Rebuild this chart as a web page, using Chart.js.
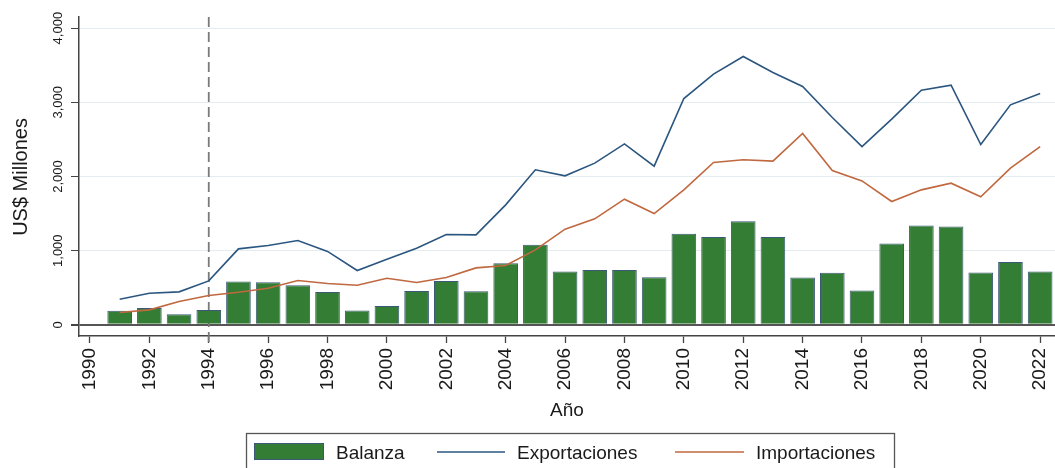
<!DOCTYPE html>
<html>
<head>
<meta charset="utf-8">
<script src="https://cdn.jsdelivr.net/npm/chart.js@4.4.0/dist/chart.umd.min.js"></script>
<style>
html,body{margin:0;padding:0;background:#fff;}
canvas{display:block;}
</style>
</head>
<body>
<canvas id="c" width="1055" height="468"></canvas>
<script>
// ---- Data ----
const years = [1991,1992,1993,1994,1995,1996,1997,1998,1999,2000,2001,2002,2003,2004,2005,2006,
               2007,2008,2009,2010,2011,2012,2013,2014,2015,2016,2017,2018,2019,2020,2021,2022];
const balanza = [189,229,144,202,584,575,535,443,193,256,458,593,454,831,1079,719,
                 741,741,643,1227,1186,1398,1186,638,701,463,1097,1339,1326,706,849,719];
const exportaciones = [346,427,445,593,1025,1070,1137,990,733,885,1034,1218,1213,1618,2090,2009,
                       2180,2440,2139,3051,3380,3618,3402,3213,2795,2404,2773,3164,3231,2431,2966,3119];
const importaciones = [166,202,315,395,440,494,598,557,535,629,571,638,768,800,1011,1290,
                       1429,1694,1501,1820,2189,2225,2207,2580,2081,1941,1663,1820,1910,1726,2112,2404];
const yTicks = [0,1000,2000,3000,4000];
const xTicks = [1990,1992,1994,1996,1998,2000,2002,2004,2006,2008,2010,2012,2014,2016,2018,2020,2022];
const refYear = 1994;
const seriesNames = ['Balanza','Exportaciones','Importaciones'];
const yTitle = 'US$ Millones';
const xTitle = 'Año';

const FONT = '"Liberation Sans", Arial, Helvetica, sans-serif';
Chart.defaults.font.family = FONT;
Chart.defaults.color = '#1a1a1a';

const colors = { bar:'#347d34', barBorder:'#3b5877', exp:'#2b5680', imp:'#c0683f', text:'#1a1a1a', axis:'#444' };

const toXY = arr => arr.map((v,i) => ({ x: years[i], y: v }));

const extras = {
  id: 'extras',
  beforeDatasetsDraw(chart) {
    const { ctx, chartArea, scales: { x } } = chart;
    const px = x.getPixelForValue(refYear);
    ctx.save();
    ctx.strokeStyle = '#7a7a7a';
    ctx.lineWidth = 1.8;
    ctx.setLineDash([10, 5]);
    ctx.beginPath();
    ctx.moveTo(px, chartArea.top);
    ctx.lineTo(px, chartArea.bottom + 7);
    ctx.stroke();
    ctx.restore();
  },
  afterDraw(chart) {
    const { ctx, scales: { x, y }, chartArea } = chart;
    ctx.save();
    ctx.fillStyle = colors.text;
    // y tick labels (rotated)
    ctx.font = '13px ' + FONT;
    ctx.textAlign = 'center';
    ctx.textBaseline = 'alphabetic';
    yTicks.forEach(v => {
      const py = y.getPixelForValue(v);
      ctx.save();
      ctx.translate(62, py);
      ctx.rotate(-Math.PI / 2);
      ctx.fillText(v.toLocaleString('en-US'), 0, 0);
      ctx.restore();
    });
    // y title
    ctx.font = '20px ' + FONT;
    ctx.save();
    ctx.translate(27, (chartArea.top + y.getPixelForValue(0)) / 2 + 6);
    ctx.rotate(-Math.PI / 2);
    ctx.fillText(yTitle, 0, 0);
    ctx.restore();
    // x title
    ctx.font = '19px ' + FONT;
    ctx.fillText(xTitle, (chartArea.left + chartArea.right) / 2, 416);
    // legend
    ctx.strokeStyle = '#555';
    ctx.lineWidth = 1.3;
    ctx.strokeRect(246.5, 433.5, 648, 60);
    ctx.fillStyle = colors.bar;
    ctx.fillRect(254, 443, 70, 17);
    ctx.strokeStyle = colors.barBorder;
    ctx.lineWidth = 1;
    ctx.strokeRect(254.5, 443.5, 69, 16);
    ctx.fillStyle = colors.text;
    ctx.font = '19px ' + FONT;
    ctx.textAlign = 'left';
    ctx.fillText(seriesNames[0], 336, 459);
    ctx.lineWidth = 1.6;
    ctx.strokeStyle = colors.exp;
    ctx.beginPath(); ctx.moveTo(437, 452); ctx.lineTo(505, 452); ctx.stroke();
    ctx.fillText(seriesNames[1], 517, 459);
    ctx.strokeStyle = colors.imp;
    ctx.beginPath(); ctx.moveTo(675, 452); ctx.lineTo(744, 452); ctx.stroke();
    ctx.fillText(seriesNames[2], 756, 459);
    ctx.restore();
  }
};

new Chart(document.getElementById('c'), {
  type: 'bar',
  data: {
    datasets: [
      { type: 'bar', label: seriesNames[0], data: toXY(balanza), backgroundColor: colors.bar,
        borderColor: colors.barBorder, borderWidth: 1, barPercentage: 0.83, categoryPercentage: 1.0, order: 3 },
      { type: 'line', label: seriesNames[1], data: toXY(exportaciones), borderColor: colors.exp,
        borderWidth: 1.6, pointRadius: 0, tension: 0, fill: false, order: 1 },
      { type: 'line', label: seriesNames[2], data: toXY(importaciones), borderColor: colors.imp,
        borderWidth: 1.6, pointRadius: 0, tension: 0, fill: false, order: 2 }
    ]
  },
  options: {
    responsive: false,
    animation: false,
    devicePixelRatio: 1,
    layout: { padding: { top: 17, left: 0, right: 0, bottom: 0 } },
    plugins: { legend: { display: false }, tooltip: { enabled: false } },
    scales: {
      x: {
        type: 'linear', min: 1989.63, max: 2022.5, offset: false,
        afterBuildTicks: s => { s.ticks = xTicks.map(v => ({ value: v })); },
        afterFit: s => { s.height = 132; s.paddingLeft = 0; s.paddingRight = 0; },
        grid: { display: true, drawOnChartArea: false, drawTicks: true, tickLength: 7, tickColor: colors.axis, tickWidth: 1.3, offset: false },
        border: { display: true, color: colors.axis, width: 1.5 },
        ticks: { autoSkip: false, minRotation: 90, maxRotation: 90, padding: 5, font: { size: 19 }, color: colors.text,
                 callback: v => String(v) }
      },
      y: {
        type: 'linear', min: -150, max: 4150,
        afterBuildTicks: s => { s.ticks = yTicks.map(v => ({ value: v })); },
        afterFit: s => { s.width = 79; s.paddingTop = 0; s.paddingBottom = 0; },
        grid: { color: c => (c.tick && c.tick.value === 0) ? '#555' : '#e3ecf0',
                lineWidth: c => (c.tick && c.tick.value === 0) ? 2 : 1,
                tickColor: colors.axis, tickLength: 8, drawTicks: true },
        border: { display: true, color: colors.axis, width: 1.5 },
        ticks: { display: false }
      }
    }
  },
  plugins: [extras]
});
</script>
</body>
</html>
